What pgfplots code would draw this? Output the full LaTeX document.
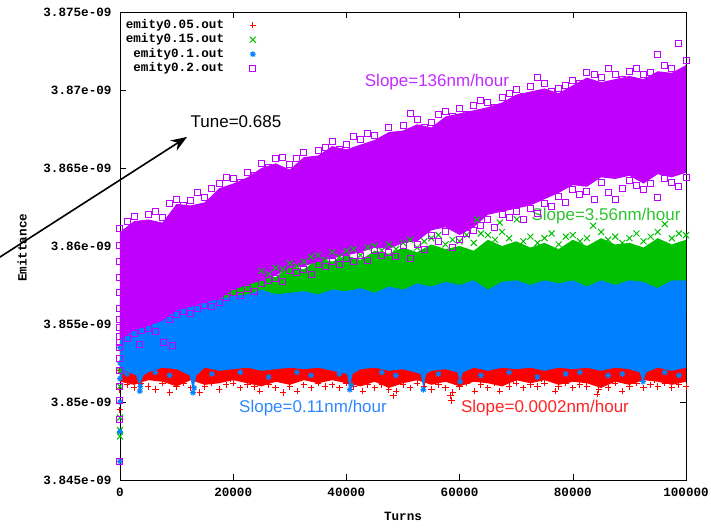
\documentclass[border=0pt]{standalone}
\usepackage{fontspec}
\setmainfont{Liberation Sans}
\setmonofont{Liberation Mono}
\usepackage{pgfplots}
\pgfplotsset{compat=1.18}
\usetikzlibrary{arrows.meta}
\definecolor{gpred}{HTML}{FF0000}
\definecolor{gpgreen}{HTML}{00C000}
\definecolor{gpblue}{HTML}{0080FF}
\definecolor{gppurple}{HTML}{C000FF}
\definecolor{txpurple}{HTML}{C22CFF}
\definecolor{txgreen}{HTML}{2EC42E}
\definecolor{txblue}{HTML}{2F86FF}
\definecolor{txred}{HTML}{FF2424}
\newcommand{\gpfont}{\ttfamily\bfseries\fontsize{12.6}{14}\selectfont}
\newcommand{\anfont}{\fontsize{17}{20}\selectfont}
\pgfdeclareplotmark{gpplus}{%
  \pgfsetstrokecolor{gpred}\pgfsetlinewidth{1pt}%
  \pgfpathmoveto{\pgfqpoint{-\pgfplotmarksize}{0pt}}\pgfpathlineto{\pgfqpoint{\pgfplotmarksize}{0pt}}%
  \pgfpathmoveto{\pgfqpoint{0pt}{-\pgfplotmarksize}}\pgfpathlineto{\pgfqpoint{0pt}{\pgfplotmarksize}}%
  \pgfusepathqstroke}
\pgfdeclareplotmark{gpcross}{%
  \pgfsetstrokecolor{gpgreen}\pgfsetlinewidth{1pt}%
  \pgfpathmoveto{\pgfqpoint{-\pgfplotmarksize}{-\pgfplotmarksize}}\pgfpathlineto{\pgfqpoint{\pgfplotmarksize}{\pgfplotmarksize}}%
  \pgfpathmoveto{\pgfqpoint{-\pgfplotmarksize}{\pgfplotmarksize}}\pgfpathlineto{\pgfqpoint{\pgfplotmarksize}{-\pgfplotmarksize}}%
  \pgfusepathqstroke}
\pgfdeclareplotmark{gpstar}{%
  \pgfsetstrokecolor{gpblue}\pgfsetlinewidth{1pt}%
  \pgfpathmoveto{\pgfqpoint{-\pgfplotmarksize}{0pt}}\pgfpathlineto{\pgfqpoint{\pgfplotmarksize}{0pt}}%
  \pgfpathmoveto{\pgfqpoint{0pt}{-\pgfplotmarksize}}\pgfpathlineto{\pgfqpoint{0pt}{\pgfplotmarksize}}%
  \pgfpathmoveto{\pgfqpoint{-0.707\pgfplotmarksize}{-0.707\pgfplotmarksize}}\pgfpathlineto{\pgfqpoint{0.707\pgfplotmarksize}{0.707\pgfplotmarksize}}%
  \pgfpathmoveto{\pgfqpoint{-0.707\pgfplotmarksize}{0.707\pgfplotmarksize}}\pgfpathlineto{\pgfqpoint{0.707\pgfplotmarksize}{-0.707\pgfplotmarksize}}%
  \pgfusepathqstroke}
\pgfdeclareplotmark{gpsquare}{%
  \pgfsetstrokecolor{gppurple}\pgfsetlinewidth{1pt}%
  \pgfpathrectanglecorners{\pgfqpoint{-\pgfplotmarksize}{-\pgfplotmarksize}}{\pgfqpoint{\pgfplotmarksize}{\pgfplotmarksize}}%
  \pgfusepathqstroke}
\begin{document}
\begin{tikzpicture}
\begin{axis}[
  scale only axis, width=566pt, height=468pt,
  xmin=0, xmax=100000, ymin=3.845, ymax=3.875,
  clip=false,
  scaled x ticks=false, scaled y ticks=false,
  axis line style={line width=0.8pt},
  major tick length=6pt,
  tick style={line width=0.6pt, black},
  xtick={0,20000,40000,60000,80000,100000},
  xticklabels={0,20000,40000,60000,80000,100000},
  ytick={3.845,3.85,3.855,3.86,3.865,3.87,3.875},
  yticklabels={3.845e-09,3.85e-09,3.855e-09,3.86e-09,3.865e-09,3.87e-09,3.875e-09},
  ticklabel style={font=\gpfont},
  xticklabel style={yshift=-5pt},
  yticklabel style={xshift=-5pt},
  xlabel={Turns}, ylabel={Emittance},
  every axis x label/.style={at={(axis description cs:0.5,-0.077)}, anchor=center, font=\gpfont},
  every axis y label/.style={at={(axis description cs:-0.173,0.496)}, rotate=90, anchor=center, font=\gpfont},
  legend plot pos=right,
  legend cell align=right,
  legend style={at={(axis description cs:0.002,0.992)}, anchor=north west, draw=none, fill=none,
    font=\gpfont, row sep=0pt, /tikz/column sep=24pt,
    nodes={inner sep=1.5pt, text height=9pt, text depth=2.5pt}},
  redm/.style={only marks, mark=gpplus, mark size=3.2pt, color=gpred},
  greenm/.style={only marks, mark=gpcross, mark size=3pt, color=gpgreen},
  bluem/.style={only marks, mark=gpstar, mark size=3pt, color=gpblue},
  purpm/.style={only marks, mark=gpsquare, mark size=3pt, color=gppurple},
]
% ---------------- red: emity0.05.out ----------------
\addplot[draw=none, fill=gpred, forget plot] coordinates {
(0,3.8555)(100000,3.8555)
(100000,3.8513)(97500,3.8511)(95000,3.8513)(92500,3.8514)(90000,3.8511)(87500,3.8513)(85000,3.8509)(82500,3.8512)(80000,3.8513)(77500,3.8511)(75000,3.8514)(72500,3.8512)(70000,3.8514)(67500,3.8510)(65000,3.8512)(62500,3.8513)(60000,3.8510)(57500,3.8513)(55000,3.8511)(52500,3.8514)(50000,3.8512)(47500,3.8509)(45000,3.8513)(42500,3.8510)(40000,3.8512)(37500,3.8514)(35000,3.8512)(32500,3.8514)(30000,3.8511)(27500,3.8513)(25000,3.8510)(22500,3.8512)(20000,3.8514)(17500,3.8512)(15000,3.8511)(12500,3.8514)(10000,3.8510)(7500,3.8513)(5000,3.8514)(2500,3.8511)(0,3.8513)
};
\addplot[redm] coordinates {
(0,3.8495)(0,3.8520)
(0,3.8508)(1250,3.8511)(2500,3.8509)(3750,3.8512)(5000,3.8510)(6250,3.8508)(7500,3.8512)(8800,3.8506)(10000,3.8510)(11250,3.8512)(12500,3.8509)(14100,3.8506)(15000,3.8510)(16250,3.8512)(17500,3.8508)(18750,3.8511)(20000,3.8512)(21250,3.8509)(22500,3.8511)(23750,3.8510)(24700,3.8507)(26250,3.8511)(27500,3.8509)(28800,3.8506)(30000,3.8510)(31300,3.8507)(32500,3.8511)(33750,3.8509)(35000,3.8512)(36250,3.8510)(37500,3.8511)(38750,3.8509)(40000,3.8512)(41250,3.8510)(42900,3.8507)(43750,3.8511)(45000,3.8509)(46250,3.8511)(47500,3.8508)(48300,3.8504)(48800,3.8507)(50000,3.8511)(51250,3.8509)(52500,3.8512)(53750,3.8510)(55000,3.8508)(56250,3.8511)(57500,3.8509)(58400,3.8504)(58600,3.8501)(58800,3.8506)(60000,3.8510)(61250,3.8512)(62700,3.8507)(63750,3.8511)(65000,3.8509)(66250,3.8512)(67100,3.8507)(68750,3.8510)(70000,3.8512)(71250,3.8509)(72500,3.8511)(73750,3.8510)(75000,3.8512)(76900,3.8507)(77500,3.8510)(78750,3.8512)(80000,3.8509)(81250,3.8511)(82500,3.8510)(84300,3.8505)(84600,3.8508)(85000,3.8511)(86250,3.8509)(87500,3.8512)(88700,3.8507)(90000,3.8510)(91250,3.8512)(92500,3.8509)(93750,3.8511)(95000,3.8510)(96250,3.8512)(97500,3.8509)(98750,3.8511)(100000,3.8510)
(9000,3.8514)(19500,3.8515)(29200,3.8514)(34000,3.8515)(44000,3.8514)(49500,3.8513)(54500,3.8515)(59300,3.8513)(64000,3.8515)(69500,3.8514)(74500,3.8515)(79500,3.8514)(85500,3.8513)(89500,3.8515)(94500,3.8514)(99000,3.8515)
};
\addlegendentry{emity0.05.out}
% ---------------- green: emity0.15.out ----------------
\addplot[draw=none, fill=gpgreen, forget plot] coordinates {
(0,3.8565)(5000,3.8568)(10000,3.8572)(15000,3.8575)(17500,3.8574)(20000,3.8578)(22500,3.8577)(25000,3.8582)(27500,3.8580)(30000,3.8587)(32500,3.8585)(35000,3.8592)(37500,3.8590)(40000,3.8594)(42500,3.8591)(45000,3.8597)(47500,3.8595)(50000,3.8599)(52500,3.8596)(55000,3.8601)(57500,3.8598)(60000,3.8600)(62500,3.8597)(65000,3.8604)(67500,3.8600)(70000,3.8603)(72500,3.8599)(75000,3.8602)(77500,3.8598)(80000,3.8604)(82500,3.8600)(85000,3.8605)(87500,3.8601)(90000,3.8602)(92500,3.8599)(95000,3.8605)(97500,3.8601)(100000,3.8604)
(100000,3.8558)(0,3.8558)
};
\addplot[greenm] coordinates {
(0,3.8482)(0,3.8478)(0,3.8490)(0,3.8510)(0,3.8520)
(25000,3.8584)(26250,3.8582)(27500,3.8586)(28750,3.8585)(30000,3.8589)(31250,3.8587)(32500,3.8590)(33750,3.8593)(35000,3.8594)(36250,3.8591)(37500,3.8596)(38750,3.8593)(40000,3.8597)(41250,3.8598)(42500,3.8594)(43750,3.8599)(45000,3.8600)(46250,3.8597)(47500,3.8601)(48750,3.8598)(50000,3.8602)(51250,3.8604)(52500,3.8599)(53750,3.8603)(55000,3.8605)(56250,3.8607)(57500,3.8601)(58750,3.8604)(60000,3.8603)(61250,3.8607)(62500,3.8602)(63100,3.8617)(63750,3.8608)(65000,3.8607)(66250,3.8604)(67100,3.8615)(67500,3.8609)(68750,3.8605)(70100,3.8617)(71250,3.8603)(72500,3.8606)(73750,3.8602)(75000,3.8605)(76250,3.8608)(77500,3.8601)(78750,3.8606)(80000,3.8607)(81250,3.8603)(82500,3.8605)(83600,3.8613)(85000,3.8609)(86250,3.8604)(87500,3.8606)(88750,3.8602)(90000,3.8605)(91250,3.8608)(92500,3.8603)(93750,3.8606)(95000,3.8609)(96250,3.8614)(97500,3.8605)(98750,3.8608)(100000,3.8607)
};
\addlegendentry{emity0.15.out}
% ---------------- blue: emity0.1.out ----------------
\addplot[draw=none, fill=gpblue, forget plot] coordinates {
(0,3.8548)(2500,3.8552)(5000,3.8556)(7500,3.8558)(10000,3.8561)(12500,3.8563)(15000,3.8565)(17500,3.8566)(20000,3.8568)(22500,3.8569)(25000,3.8572)(27500,3.8569)(30000,3.8570)(32500,3.8571)(35000,3.8569)(37500,3.8572)(40000,3.8571)(42500,3.8573)(45000,3.8570)(47500,3.8574)(50000,3.8572)(52500,3.8576)(55000,3.8574)(57500,3.8577)(60000,3.8575)(62500,3.8578)(65000,3.8572)(67500,3.8577)(70000,3.8578)(72500,3.8575)(75000,3.8578)(77500,3.8576)(80000,3.8578)(82500,3.8574)(85000,3.8578)(87500,3.8575)(90000,3.8578)(92500,3.8577)(95000,3.8573)(97500,3.8578)(100000,3.8578)
(100000,3.8522)(97500,3.8520)(95000,3.8522)(93000,3.8519)(92400,3.8513)(91800,3.8519)(90000,3.8521)(87500,3.8522)(85000,3.8520)(82500,3.8522)(80000,3.8521)(77500,3.8522)(75000,3.8520)(72500,3.8522)(70000,3.8521)(67500,3.8522)(65000,3.8520)(62500,3.8522)(60600,3.8519)(60100,3.8513)(59600,3.8519)(57500,3.8521)(55000,3.8520)(54100,3.8518)(53600,3.8509)(53100,3.8518)(50000,3.8521)(47500,3.8520)(45000,3.8522)(42500,3.8521)(41100,3.8518)(40600,3.8509)(40100,3.8518)(37500,3.8520)(35000,3.8522)(32500,3.8521)(30000,3.8522)(27500,3.8521)(25000,3.8520)(22500,3.8522)(20000,3.8521)(17500,3.8520)(15000,3.8522)(13500,3.8517)(12900,3.8508)(12300,3.8517)(10000,3.8521)(7500,3.8522)(5000,3.8519)(4100,3.8517)(3500,3.8508)(2900,3.8517)(1000,3.8520)(0,3.8515)
};
\addplot[bluem] coordinates {
(0,3.8462)(0,3.8481)(0,3.8500)(0,3.8515)(0,3.8525)(0,3.8535)
(3500,3.8507)(3600,3.8510)(12900,3.8506)(13100,3.8509)(40600,3.8508)(40800,3.8511)(53600,3.8508)(60100,3.8513)(92400,3.8513)
(1250,3.8518)(6250,3.8519)(8750,3.8517)(16250,3.8518)(21250,3.8519)(26250,3.8516)(31250,3.8519)(33750,3.8517)(38750,3.8518)(46250,3.8519)(48750,3.8517)(56250,3.8518)(63750,3.8517)(68750,3.8519)(73750,3.8516)(78750,3.8518)(81250,3.8519)(86250,3.8517)(88750,3.8518)(96250,3.8519)(98750,3.8517)
};
\addlegendentry{emity0.1.out}
% ---------------- purple: emity0.2.out ----------------
\addplot[draw=none, fill=gppurple, forget plot] coordinates {
(0,3.8609)(2500,3.8616)(5000,3.8617)(7500,3.8615)(10000,3.8627)(12500,3.8626)(15000,3.8628)(17500,3.8637)(20000,3.8640)(22500,3.8644)(25000,3.8650)(27500,3.8653)(30000,3.8649)(32500,3.8657)(35000,3.8658)(37500,3.8664)(40000,3.8662)(42500,3.8665)(45000,3.8668)(47500,3.8673)(50000,3.8674)(52500,3.8678)(55000,3.8676)(57500,3.8683)(60000,3.8685)(62500,3.8687)(65000,3.8689)(67500,3.8692)(70000,3.8697)(72500,3.8699)(75000,3.8701)(77500,3.8698)(80000,3.8703)(82500,3.8708)(85000,3.8705)(87500,3.8707)(90000,3.8709)(92500,3.8707)(95000,3.8712)(97500,3.8711)(100000,3.8716)
(100000,3.8647)(97500,3.8644)(95000,3.8646)(92500,3.8640)(90000,3.8645)(87500,3.8643)(85000,3.8644)(82500,3.8638)(80000,3.8639)(77500,3.8634)(75000,3.8630)(72500,3.8626)(70000,3.8624)(67500,3.8622)(65000,3.8620)(62500,3.8612)(60000,3.8607)(57500,3.8612)(55000,3.8610)(52500,3.8603)(50000,3.8602)(47500,3.8598)(45000,3.8599)(42500,3.8596)(40000,3.8594)(37500,3.8592)(35000,3.8590)(32500,3.8587)(30000,3.8586)(27500,3.8581)(25000,3.8578)(22500,3.8575)(20000,3.8572)(17500,3.8566)(15000,3.8564)(12500,3.8561)(10000,3.8559)(7500,3.8552)(5000,3.8549)(2500,3.8546)(0,3.8540)
};
\addplot[purpm] coordinates {
(0,3.8600)(0,3.8590)(0,3.8580)(0,3.8570)(0,3.8560)(0,3.8553)(0,3.8548)(0,3.8542)(0,3.8535)(0,3.8528)(0,3.8520)(0,3.8510)(0,3.8501)(0,3.8489)(0,3.8462)
(0,3.8611)(1250,3.8616)(2500,3.8619)(3750,3.8614)(5000,3.8620)(6250,3.8622)(7500,3.8618)(8750,3.8627)(10000,3.8630)(11250,3.8626)(12500,3.8629)(13750,3.8634)(15000,3.8631)(16250,3.8637)(17500,3.8640)(18750,3.8644)(20000,3.8643)(21250,3.8641)(22500,3.8647)(23750,3.8645)(25000,3.8653)(26250,3.8650)(27500,3.8656)(28750,3.8657)(30000,3.8652)(31250,3.8656)(32500,3.8660)(33750,3.8655)(35000,3.8661)(36250,3.8663)(37500,3.8667)(38750,3.8662)(40000,3.8665)(41250,3.8670)(42500,3.8668)(43750,3.8672)(45000,3.8671)(46250,3.8667)(47500,3.8676)(48750,3.8671)(50000,3.8677)(51250,3.8685)(52500,3.8681)(53750,3.8676)(55000,3.8679)(56250,3.8684)(57500,3.8686)(58750,3.8683)(60000,3.8688)(61250,3.8684)(62500,3.8690)(63750,3.8693)(65000,3.8692)(66250,3.8689)(67500,3.8695)(68750,3.8698)(70000,3.8700)(71250,3.8696)(72500,3.8702)(73750,3.8708)(75000,3.8704)(76250,3.8699)(77500,3.8701)(78750,3.8703)(80000,3.8706)(81250,3.8704)(82500,3.8711)(83750,3.8710)(85000,3.8708)(86250,3.8714)(87500,3.8710)(88750,3.8707)(90000,3.8712)(91250,3.8714)(92500,3.8710)(93750,3.8711)(95000,3.8723)(96250,3.8716)(97500,3.8714)(98750,3.8730)(100000,3.8719)
(0,3.8538)(1250,3.8541)(2500,3.8544)(3500,3.8537)(3750,3.8546)(5000,3.8547)(6250,3.8545)(7600,3.8538)(8750,3.8553)(9300,3.8536)(10000,3.8556)(11250,3.8558)(12500,3.8557)(13750,3.8560)(15000,3.8562)(16250,3.8561)(17500,3.8564)(18750,3.8567)(20000,3.8570)(21250,3.8568)(22500,3.8573)(23750,3.8571)(25000,3.8576)(26250,3.8578)(27500,3.8579)(28750,3.8577)(30000,3.8584)(31250,3.8583)(32500,3.8585)(33750,3.8582)(35000,3.8588)(36250,3.8587)(37500,3.8590)(38750,3.8588)(40000,3.8592)(41250,3.8590)(42500,3.8594)(43750,3.8591)(45000,3.8597)(46250,3.8594)(47500,3.8596)(48750,3.8593)(50000,3.8600)(51250,3.8592)(52500,3.8601)(53750,3.8598)(55000,3.8607)(56250,3.8603)(57500,3.8609)(58750,3.8599)(60000,3.8604)(61250,3.8608)(62500,3.8610)(63750,3.8613)(65000,3.8617)(66250,3.8612)(67500,3.8620)(68750,3.8618)(70000,3.8622)(71250,3.8617)(72500,3.8624)(73750,3.8621)(75000,3.8627)(76250,3.8625)(77500,3.8632)(78750,3.8628)(80000,3.8636)(81250,3.8633)(82500,3.8635)(83750,3.8630)(85000,3.8641)(86250,3.8634)(87500,3.8630)(88750,3.8637)(90000,3.8642)(91250,3.8639)(92500,3.8636)(93750,3.8640)(95000,3.8631)(96250,3.8643)(97500,3.8641)(98750,3.8638)(100000,3.8644)
};
\addlegendentry{emity0.2.out}
% ---------------- annotations ----------------
\node[font=\anfont, text=txpurple] at (axis cs:56000,3.87051) {Slope=136nm/hour};
\node[font=\anfont, text=txgreen] at (axis cs:85866,3.86192) {Slope=3.56nm/hour};
\node[font=\anfont, text=txblue] at (axis cs:34099,3.84962) {Slope=0.11nm/hour};
\node[font=\anfont, text=txred] at (axis cs:75089,3.84962) {Slope=0.0002nm/hour};
\node[font=\anfont, text=black] at (axis cs:20495,3.86795) {Tune=0.685};
\draw[line width=1.6pt, -{Stealth[length=16pt,width=12pt]}] (axis cs:-24735,3.85847) -- (axis cs:11838,3.86699);
\end{axis}
\pgfresetboundingbox
\path ([shift={(-120pt,-47pt)}]current axis.south west) rectangle ([shift={(25pt,12pt)}]current axis.north east);
\end{tikzpicture}
\end{document}
